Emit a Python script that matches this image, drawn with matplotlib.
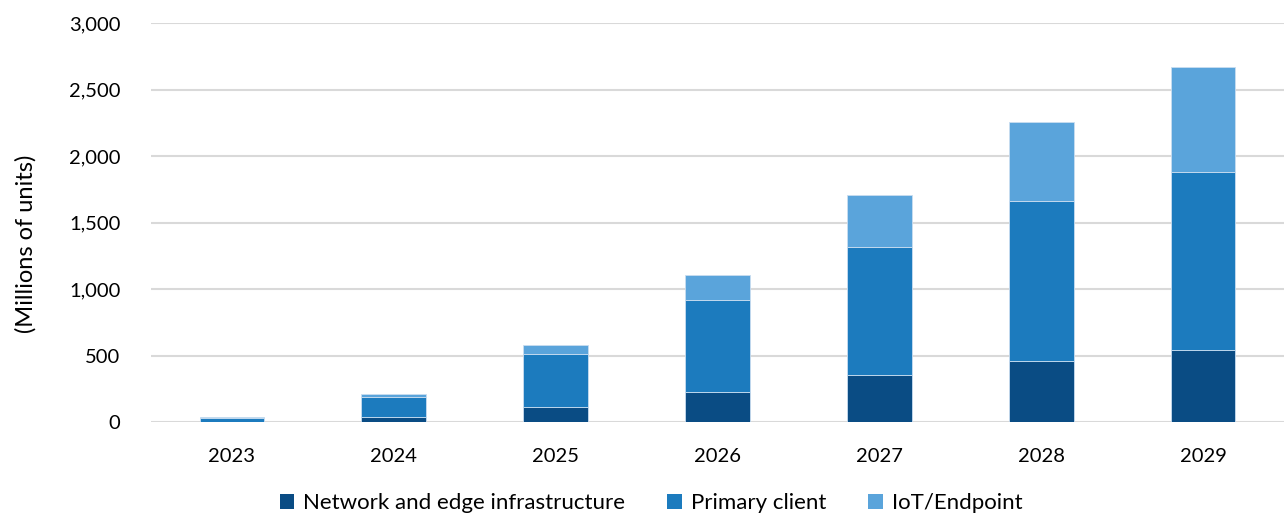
import matplotlib
matplotlib.use("Agg")
import matplotlib.pyplot as plt
import numpy as np
from matplotlib.ticker import FuncFormatter

plt.rcParams['font.family'] = ['Lato', 'DejaVu Sans']

years = ["2023", "2024", "2025", "2026", "2027", "2028", "2029"]
network = [2, 40, 116, 226, 357, 462, 538]
primary = [28, 145, 397, 689, 962, 1199, 1346]
iot = [4, 28, 65, 193, 390, 595, 789]
series_names = ["Network and edge infrastructure", "Primary client", "IoT/Endpoint"]
colors = ["#0A4C84", "#1C7BBE", "#5AA4DB"]
yticks = [0, 500, 1000, 1500, 2000, 2500, 3000]

fig = plt.figure(figsize=(12.84, 5.14), dpi=100)
ax = fig.add_axes([0.1176, 0.179, 0.8824, 0.776])

x = np.arange(len(years))
bottom = np.zeros(len(years))
for vals, name, c in zip([network, primary, iot], series_names, colors):
    ax.bar(x, vals, width=0.4, bottom=bottom, color=c, label=name,
           edgecolor="#C9DDF0", linewidth=0.6, zorder=3)
    bottom += np.array(vals)

ax.set_xlim(-0.5, len(years) - 0.5)
ax.set_ylim(0, 3000)
ax.set_yticks(yticks)
ax.yaxis.set_major_formatter(FuncFormatter(lambda v, p: f"{int(v):,}"))
ax.set_xticks(x)
ax.set_xticklabels(years)
ax.grid(axis="y", color="#D9D9D9", linewidth=1.5, zorder=0)
for s in ax.spines.values():
    s.set_visible(False)
ax.tick_params(axis="both", length=0, labelsize=14.5, colors="#000000")
ax.tick_params(axis="x", pad=19)
ax.tick_params(axis="y", pad=22)
ax.set_ylabel("(Millions of units)", fontsize=17)
ax.yaxis.set_label_coords(-0.101, 0.446)

handles, labels = ax.get_legend_handles_labels()
leg = fig.legend(handles, labels, loc="lower center", bbox_to_anchor=(0.507, -0.037),
                 ncol=3, frameon=False, fontsize=16, handlelength=0.65,
                 handleheight=0.65, handletextpad=0.4, columnspacing=1.9)
for h in leg.legend_handles:
    h.set_edgecolor("none")

fig.savefig("out.png", dpi=100)
